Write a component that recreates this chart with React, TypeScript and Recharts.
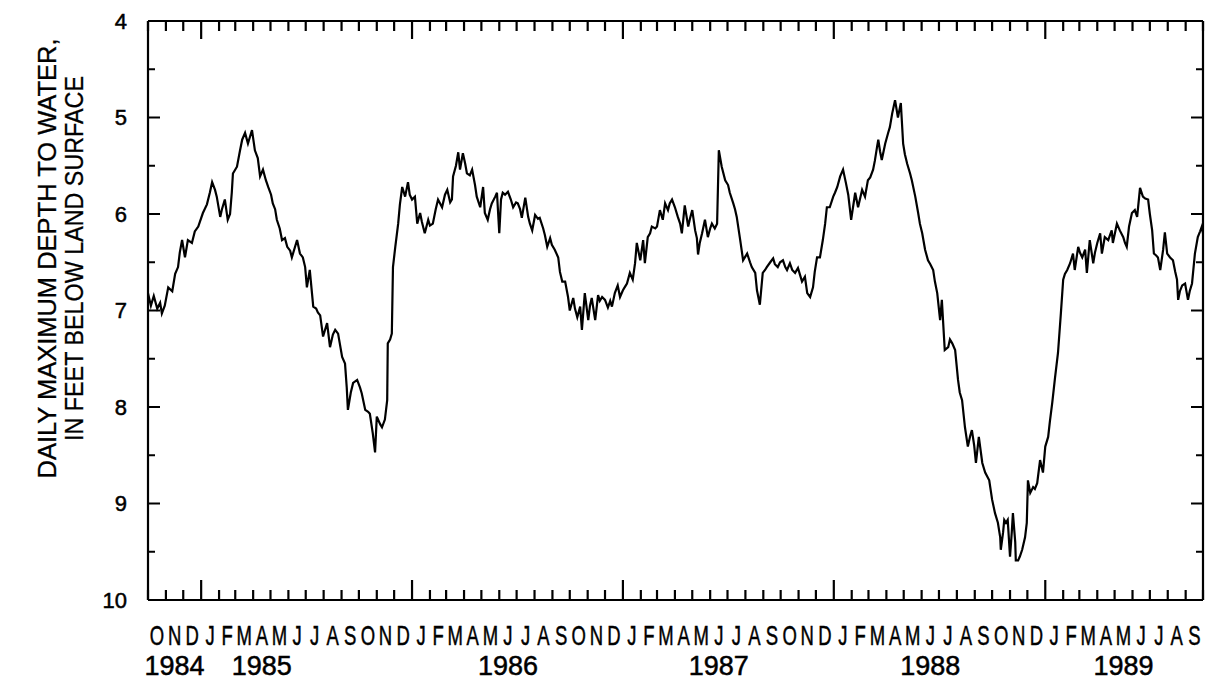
import { LineChart, Line, XAxis, YAxis, ReferenceLine } from "recharts";

// days since 1 Oct 1984 (start of water year 1985)
const dayOffset = [
  0, 5, 10, 16, 21, 24, 29, 35, 42, 47,
  52, 55, 59, 64, 69, 76, 81, 87, 95, 102,
  107, 111, 116, 119, 125, 128, 133, 138, 142, 145,
  147, 154, 159, 163, 168, 173, 180, 185, 190, 194,
  199, 204, 208, 213, 216, 220, 223, 228, 232, 237,
  241, 246, 249, 254, 258, 263, 268, 272, 275, 280,
  286, 291, 294, 298, 303, 310, 315, 320, 324, 329,
  336, 341, 344, 346, 351, 355, 362, 367, 370, 376,
  381, 384, 389, 393, 396, 402, 405, 410, 414, 415,
  419, 422, 424, 428, 433, 436, 440, 445, 450, 453,
  457, 462, 466, 471, 474, 479, 485, 488, 493, 498,
  502, 509, 514, 518, 523, 526, 528, 533, 537, 540,
  545, 549, 552, 557, 561, 566, 569, 575, 580, 583,
  588, 592, 595, 601, 604, 608, 611, 614, 618, 623,
  628, 632, 637, 640, 644, 647, 653, 658, 661, 665,
  670, 675, 678, 684, 687, 691, 696, 699, 704, 710,
  713, 717, 722, 727, 730, 736, 739, 743, 748, 751,
  756, 762, 765, 768, 774, 779, 782, 786, 791, 796,
  800, 803, 808, 813, 817, 822, 826, 829, 834, 839,
  843, 846, 852, 857, 860, 865, 869, 872, 878, 881,
  886, 891, 895, 900, 903, 907, 912, 917, 921, 924,
  929, 935, 938, 942, 947, 950, 952, 955, 959, 964,
  969, 973, 976, 981, 985, 988, 993, 999, 1004, 1007,
  1013, 1016, 1019, 1025, 1030, 1033, 1037, 1042, 1045, 1051,
  1054, 1059, 1064, 1068, 1071, 1077, 1082, 1085, 1090, 1094,
  1099, 1103, 1106, 1111, 1115, 1120, 1125, 1128, 1132, 1137,
  1141, 1146, 1151, 1154, 1158, 1163, 1168, 1172, 1175, 1180,
  1186, 1189, 1193, 1198, 1203, 1208, 1212, 1217, 1224, 1229,
  1236, 1241, 1246, 1250, 1255, 1258, 1262, 1264, 1267, 1270,
  1276, 1281, 1284, 1288, 1293, 1298, 1303, 1307, 1310, 1314,
  1319, 1322, 1328, 1333, 1336, 1340, 1345, 1350, 1354, 1359,
  1362, 1366, 1371, 1374, 1379, 1385, 1388, 1392, 1397, 1402,
  1405, 1409, 1414, 1419, 1423, 1426, 1430, 1433, 1438, 1444,
  1449, 1456, 1461, 1466, 1471, 1475, 1476, 1480, 1482, 1485,
  1488, 1492, 1495, 1497, 1501, 1502, 1506, 1509, 1513, 1518,
  1521, 1523, 1527, 1532, 1535, 1539, 1544, 1549, 1553, 1558,
  1561, 1565, 1570, 1575, 1580, 1584, 1587, 1591, 1596, 1601,
  1604, 1610, 1613, 1617, 1622, 1625, 1630, 1636, 1639, 1643,
  1648, 1651, 1656, 1662, 1665, 1668, 1670, 1677, 1682, 1688,
  1691, 1694, 1698, 1703, 1708, 1712, 1717, 1722, 1726, 1731,
  1734, 1738, 1741, 1745, 1748, 1752, 1757, 1760, 1764, 1769,
  1774, 1778, 1781, 1783, 1786, 1790, 1795, 1800, 1803, 1807,
  1812, 1817, 1821, 1824, 1826,
];

// daily maximum depth to water, feet below land surface
const depthFeet = [
  6.82, 6.95, 6.85, 6.98, 6.92, 7.03, 6.95, 6.76, 6.8, 6.62,
  6.55, 6.4, 6.27, 6.45, 6.27, 6.3, 6.18, 6.13, 5.99, 5.9,
  5.78, 5.67, 5.75, 5.82, 6.03, 5.95, 5.85, 6.06, 6.0, 5.78,
  5.58, 5.51, 5.35, 5.23, 5.16, 5.27, 5.13, 5.34, 5.42, 5.61,
  5.54, 5.65, 5.72, 5.8, 5.89, 5.95, 6.06, 6.15, 6.27, 6.25,
  6.34, 6.38, 6.45, 6.35, 6.27, 6.41, 6.45, 6.55, 6.76, 6.58,
  6.96, 6.98, 7.02, 7.05, 7.27, 7.13, 7.38, 7.25, 7.2, 7.24,
  7.48, 7.55, 7.8, 8.03, 7.85, 7.75, 7.72, 7.8, 7.86, 8.03,
  8.05, 8.07, 8.27, 8.47, 8.1, 8.18, 8.21, 8.13, 7.93, 7.34,
  7.3, 7.24, 6.55, 6.34, 6.1, 5.9, 5.72, 5.82, 5.67, 5.8,
  5.85, 5.82, 6.1, 5.99, 6.08, 6.2, 6.06, 6.12, 6.1, 5.95,
  5.85, 5.93, 5.8, 5.75, 5.88, 5.85, 5.61, 5.5, 5.36, 5.54,
  5.37, 5.48, 5.58, 5.6, 5.54, 5.7, 5.82, 5.93, 5.72, 5.99,
  6.06, 5.95, 5.89, 5.82, 5.78, 6.2, 5.85, 5.78, 5.8, 5.77,
  5.85, 5.93, 5.88, 5.89, 5.95, 6.04, 5.83, 6.03, 6.1, 6.17,
  6.01, 6.05, 6.04, 6.15, 6.22, 6.34, 6.25, 6.32, 6.37, 6.45,
  6.6, 6.7, 6.7, 6.86, 7.0, 6.87, 6.98, 7.07, 6.96, 7.2,
  6.82, 7.1, 6.95, 6.87, 7.1, 6.84, 6.9, 6.86, 6.89, 6.97,
  6.9, 6.96, 6.82, 6.74, 6.86, 6.79, 6.75, 6.72, 6.61, 6.68,
  6.51, 6.3, 6.48, 6.27, 6.51, 6.24, 6.2, 6.13, 6.15, 6.13,
  5.96, 6.06, 5.89, 5.96, 5.89, 5.85, 5.93, 6.03, 6.1, 6.2,
  5.91, 6.13, 6.05, 5.96, 6.17, 6.25, 6.42, 6.3, 6.2, 6.06,
  6.24, 6.15, 6.1, 6.15, 6.1, 5.34, 5.51, 5.65, 5.7, 5.78,
  5.89, 5.95, 6.03, 6.27, 6.48, 6.45, 6.41, 6.5, 6.55, 6.61,
  6.79, 6.94, 6.61, 6.58, 6.55, 6.5, 6.46, 6.52, 6.55, 6.5,
  6.48, 6.55, 6.58, 6.51, 6.58, 6.61, 6.56, 6.62, 6.7, 6.65,
  6.82, 6.86, 6.76, 6.6, 6.45, 6.45, 6.27, 6.1, 5.93, 5.93,
  5.82, 5.78, 5.72, 5.61, 5.54, 5.68, 5.8, 6.06, 5.78, 5.93,
  5.75, 5.82, 5.65, 5.62, 5.54, 5.45, 5.3, 5.23, 5.35, 5.44,
  5.27, 5.16, 5.1, 4.96, 4.82, 5.0, 4.85, 5.27, 5.38, 5.48,
  5.58, 5.65, 5.82, 5.99, 6.1, 6.2, 6.37, 6.48, 6.52, 6.58,
  6.7, 6.82, 7.1, 6.89, 7.41, 7.38, 7.3, 7.34, 7.41, 7.72,
  7.85, 7.93, 8.21, 8.41, 8.3, 8.24, 8.4, 8.58, 8.31, 8.58,
  8.68, 8.76, 8.96, 9.1, 9.2, 9.35, 9.48, 9.3, 9.17, 9.2,
  9.17, 9.55, 9.3, 9.1, 9.4, 9.59, 9.59, 9.55, 9.48, 9.35,
  9.2, 8.76, 8.89, 8.83, 8.85, 8.79, 8.55, 8.68, 8.41, 8.31,
  8.15, 7.96, 7.69, 7.44, 7.03, 6.68, 6.62, 6.58, 6.51, 6.41,
  6.58, 6.34, 6.4, 6.45, 6.37, 6.61, 6.27, 6.51, 6.4, 6.3,
  6.2, 6.41, 6.24, 6.27, 6.22, 6.17, 6.3, 6.1, 6.17, 6.24,
  6.3, 6.34, 6.13, 5.99, 5.96, 6.03, 5.73, 5.82, 5.84, 5.85,
  6.0, 6.17, 6.41, 6.43, 6.45, 6.58, 6.37, 6.19, 6.41, 6.45,
  6.48, 6.6, 6.68, 6.89, 6.8, 6.74, 6.72, 6.89, 6.8, 6.72,
  6.41, 6.24, 6.18, 6.13, 6.2,
];

const monthLetters = ["O", "N", "D", "J", "F", "M", "A", "M", "J", "J", "A", "S"];
const depthTicks = [4, 4.5, 5, 5.5, 6, 6.5, 7, 7.5, 8, 8.5, 9, 9.5, 10];
const yearLabels = ["1984", "1985", "1986", "1987", "1988", "1989"];
const yearLabelMonths = ["1984-11", "1985-04", "1986-06", "1987-06", "1988-06", "1989-05"];

const START = Date.UTC(1984, 9, 1);
const DAY = 86400000;
const monthStarts = Array.from({ length: 61 }, (_, i) => (Date.UTC(1984, 9 + i, 1) - START) / DAY);
const monthMids = monthStarts.slice(0, -1).map((d, i) => (d + monthStarts[i + 1]) / 2);
const monthKeys = monthMids.map((_, i) => {
  const dt = new Date(Date.UTC(1984, 9 + i, 1));
  return `${dt.getUTCFullYear()}-${String(dt.getUTCMonth() + 1).padStart(2, "0")}`;
});
const END = monthStarts[60];

const data = dayOffset.map((day, i) => ({ day, depth: depthFeet[i] }));

const INK = "#000";
const FONT = "'Liberation Sans', Arial, sans-serif";
const textInk = { fill: INK, stroke: INK, strokeWidth: 0.5, fontFamily: FONT };

function MonthLabel({ x, y, index }: any) {
  const yi = yearLabelMonths.indexOf(monthKeys[index]);
  return (
    <g>
      <g transform={`translate(${x},${y + 45})`}>
        <text transform="scale(0.66,1)" textAnchor="middle" fontSize={28} {...textInk}>
          {monthLetters[index % 12]}
        </text>
      </g>
      {yi >= 0 && (
        <text x={x} y={y + 75} textAnchor="middle" fontSize={27} {...textInk}>
          {yearLabels[yi]}
        </text>
      )}
    </g>
  );
}

// month boundary marks, inward from the bottom and top frame; longer at January
function MonthMark({ x1, y1, y2, jan }: any) {
  const top = Math.min(y1, y2);
  const bottom = Math.max(y1, y2);
  return (
    <g>
      <line x1={x1} x2={x1} y1={bottom} y2={bottom - (jan ? 20 : 10)} stroke={INK} strokeWidth={2.2} />
      <line x1={x1} x2={x1} y1={top} y2={top + (jan ? 18 : 10)} stroke={INK} strokeWidth={2.2} />
    </g>
  );
}

// depth marks on the right frame
function RightMark({ x1, x2, y1, major }: any) {
  const right = Math.max(x1, x2);
  return <line x1={right} x2={right - (major ? 12 : 7)} y1={y1} y2={y1} stroke={INK} strokeWidth={2} />;
}

function LeftTick({ x, y, payload }: any) {
  const major = Number.isInteger(payload.value);
  return (
    <g>
      <line x1={x} x2={x + (major ? 12 : 7)} y1={y} y2={y} stroke={INK} strokeWidth={2} />
      {major && (
        <text x={x - 21} y={y} dy="0.36em" textAnchor="end" fontSize={22} {...textInk}>
          {payload.value}
        </text>
      )}
    </g>
  );
}

function AxisTitle({ viewBox }: any) {
  const cy = viewBox.y + viewBox.height / 2 - 52;
  const x1 = viewBox.x - 32;
  const x2 = viewBox.x - 5;
  const common = { textAnchor: "middle" as const, fontSize: 26, lengthAdjust: "spacingAndGlyphs", ...textInk, strokeWidth: 0.3 };
  return (
    <g>
      <text x={x1} y={cy} transform={`rotate(-90 ${x1} ${cy})`} textLength={440} {...common}>
        DAILY MAXIMUM DEPTH TO WATER,
      </text>
      <text x={x2} y={cy} transform={`rotate(-90 ${x2} ${cy})`} textLength={365} {...common}>
        IN FEET BELOW LAND SURFACE
      </text>
    </g>
  );
}

const frame = { stroke: INK, strokeWidth: 2.2 };

export default function App() {
  return (
    <div style={{ position: "absolute", left: 0, top: 0, width: 1209, height: 684, background: "#fff" }}>
      <LineChart
        width={1209}
        height={684}
        data={data}
        margin={{ top: 21, right: 6, bottom: 8, left: 88 }}
      >
        <XAxis
          xAxisId="bottom"
          dataKey="day"
          type="number"
          domain={[0, END]}
          allowDataOverflow
          ticks={monthMids}
          interval={0}
          height={76}
          tickSize={0}
          tickMargin={0}
          tickLine={false}
          axisLine={frame}
          tick={(p: any) => <MonthLabel {...p} />}
        />
        <YAxis
          yAxisId="left"
          type="number"
          reversed
          domain={[4, 10]}
          allowDataOverflow
          ticks={depthTicks}
          interval={0}
          width={60}
          tickSize={0}
          tickMargin={0}
          tickLine={false}
          axisLine={frame}
          tick={(p: any) => <LeftTick {...p} />}
          label={(p: any) => <AxisTitle {...p} />}
        />
        <Line
          xAxisId="bottom"
          yAxisId="left"
          dataKey="depth"
          type="linear"
          stroke={INK}
          strokeWidth={2.2}
          dot={false}
          isAnimationActive={false}
        />
        <ReferenceLine xAxisId="bottom" yAxisId="left" y={4} stroke={INK} strokeWidth={2.2} />
        <ReferenceLine xAxisId="bottom" yAxisId="left" x={END} stroke={INK} strokeWidth={2.2} />
        {monthStarts.map((d, i) => (
          <ReferenceLine
            key={`m${d}`}
            xAxisId="bottom"
            yAxisId="left"
            x={d}
            stroke="none"
            shape={(p: any) => <MonthMark {...p} jan={i % 12 === 3} />}
          />
        ))}
        {depthTicks.map((v) => (
          <ReferenceLine
            key={`d${v}`}
            xAxisId="bottom"
            yAxisId="left"
            y={v}
            stroke="none"
            shape={(p: any) => <RightMark {...p} major={Number.isInteger(v)} />}
          />
        ))}
      </LineChart>
    </div>
  );
}
